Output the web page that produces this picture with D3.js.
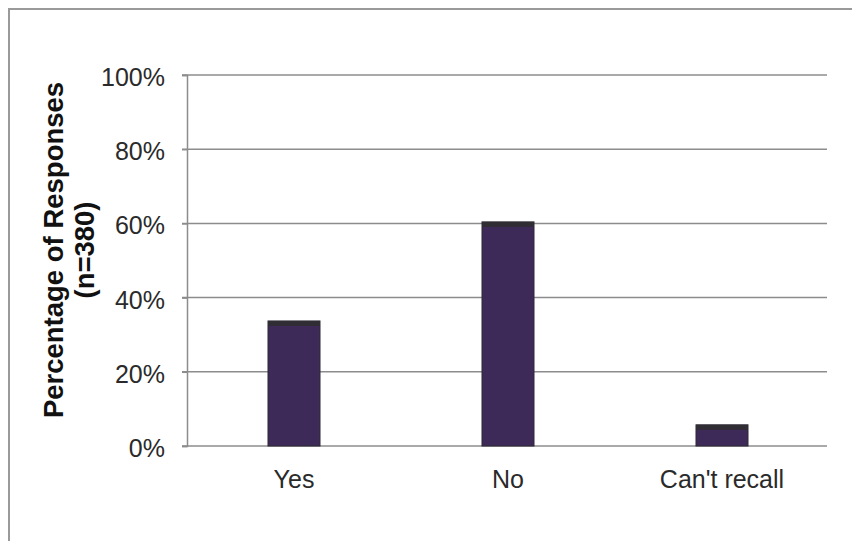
<!DOCTYPE html>
<html><head><meta charset="utf-8">
<script src="https://cdn.jsdelivr.net/npm/d3@7"></script>
<style>body{margin:0;background:#fff}svg{display:block}</style>
</head><body>
<script>
const categories = ["Yes", "No", "Can't recall"];
const values = [33.7, 60.4, 5.7];
const yTicks = [0, 20, 40, 60, 80, 100];
const yTitle1 = "Percentage of Responses";
const yTitle2 = "(n=380)";

const W = 852, H = 541;
const svg = d3.select("body").append("svg").attr("width", W).attr("height", H);
const font = "'Liberation Sans', Arial, Helvetica, sans-serif";

// outer frame
svg.append("line").attr("x1", 8).attr("x2", W).attr("y1", 9).attr("y2", 9).attr("stroke", "#9a9a9a").attr("stroke-width", 2);
svg.append("line").attr("x1", 9).attr("x2", 9).attr("y1", 8).attr("y2", H).attr("stroke", "#9a9a9a").attr("stroke-width", 2);

const x = d3.scaleBand().domain(categories).range([187, 829]).paddingInner(0.757).paddingOuter(0.3785);
const y = d3.scaleLinear().domain([0, 100]).range([446, 75]);

// gridlines
svg.append("g").selectAll("line").data(yTicks).join("line")
  .attr("x1", 182).attr("x2", 827)
  .attr("y1", d => y(d)).attr("y2", d => y(d))
  .attr("stroke", "#8c8c8c").attr("stroke-width", 1.5);

// y axis
const yAxis = svg.append("g").attr("transform", "translate(187,0)")
  .call(d3.axisLeft(y).tickValues(yTicks).tickFormat(d => d + "%").tickSize(5).tickPadding(17));
yAxis.select(".domain").attr("stroke", "#8c8c8c").attr("stroke-width", 1.5);
yAxis.selectAll(".tick line").attr("stroke", "#8c8c8c").attr("stroke-width", 1.5);
yAxis.selectAll("text").attr("font-family", font).attr("font-size", 25).attr("fill", "#2a2a2a").attr("dy", "0.42em");

// bars
const bars = svg.append("g").selectAll("g").data(categories).join("g");
bars.append("rect")
  .attr("x", d => x(d)).attr("width", x.bandwidth())
  .attr("y", (d, i) => y(values[i])).attr("height", (d, i) => y(0) - y(values[i]))
  .attr("fill", "#3e2a58").attr("stroke", "#2c2833").attr("stroke-width", 1);
bars.append("rect")
  .attr("x", d => x(d)).attr("width", x.bandwidth())
  .attr("y", (d, i) => y(values[i])).attr("height", (d, i) => Math.min(5, y(0) - y(values[i])))
  .attr("fill", "#302d35");

// x axis labels
svg.append("g").selectAll("text").data(categories).join("text")
  .attr("x", d => x(d) + x.bandwidth() / 2).attr("y", 488)
  .attr("text-anchor", "middle").attr("font-family", font).attr("font-size", 25).attr("fill", "#2a2a2a")
  .text(d => d);

// y title
const t = svg.append("text").attr("transform", "translate(63,250) rotate(-90)")
  .attr("text-anchor", "middle").attr("font-family", font).attr("font-weight", "bold").attr("font-size", 27.5).attr("fill", "#111");
t.append("tspan").attr("x", 0).attr("y", 0).text(yTitle1);
t.append("tspan").attr("x", 0).attr("y", 31).text(yTitle2);
</script>
</body></html>
